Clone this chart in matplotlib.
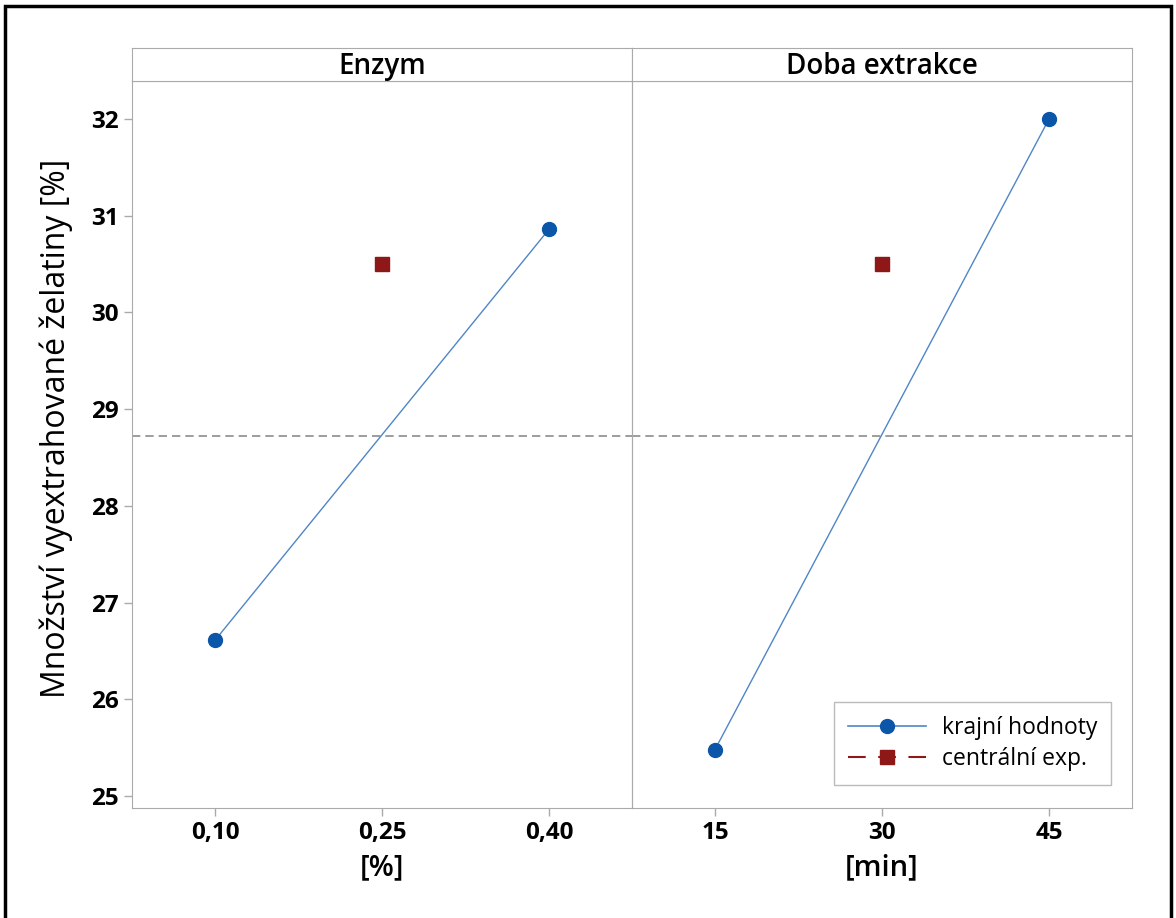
import matplotlib.pyplot as plt
from matplotlib.lines import Line2D
from matplotlib.patches import Rectangle

# hlavní efekty - krajní body a centrální experiment
faktory = ['Enzym', 'Doba extrakce']
jednotky = ['[%]', '[min]']
urovne = [[0.10, 0.25, 0.40], [15, 30, 45]]
popisky = [['0,10', '0,25', '0,40'], ['15', '30', '45']]
krajni = [[26.61, 30.86], [25.48, 32.00]]
centralni = [30.50, 30.50]
prumer = 28.72

plt.rcParams['font.family'] = ['Open Sans', 'DejaVu Sans']

W, H = 1176, 918
fig = plt.figure(figsize=(W / 100, H / 100), dpi=100)

# ramecek kolem celeho obrazku (spodni okraj je oriznuty)
fig.patches.append(Rectangle((5 / W, -0.02), 1166 / W, 912 / H + 0.02,
                             transform=fig.transFigure, fill=False,
                             edgecolor='black', linewidth=2.5))

seda = '#aaaaaa'
x0 = [132, 632]
sirka = 500
spodek, vrsek, pruh = 808, 81, 48

for i in range(2):
    ax = fig.add_axes([x0[i] / W, (H - spodek) / H, sirka / W, (spodek - vrsek) / H])
    ax.patch.set_alpha(0)
    lv = urovne[i]
    krok = lv[1] - lv[0]
    ax.set_xlim(lv[0] - 0.497 * krok, lv[2] + 0.497 * krok)
    ax.set_ylim(24.876, 32.393)

    ax.axhline(prumer, color='#8c8c8c', linestyle=(0, (5, 3)), linewidth=1.2, zorder=1)
    ax.plot([lv[0], lv[2]], krajni[i], color='#4f86c6', linewidth=1.0, zorder=2)
    ax.plot([lv[0], lv[2]], krajni[i], linestyle='none', marker='o', markersize=10,
            color='#0b56a8', zorder=3)
    ax.plot([lv[1]], [centralni[i]], linestyle='none', marker='s', markersize=10,
            color='#8e1717', zorder=3)

    ax.set_xticks(lv)
    ax.set_xticklabels(popisky[i])
    ax.set_xlabel(jednotky[i], fontsize=21, fontweight='semibold', labelpad=6)
    for s in ax.spines.values():
        s.set_color(seda)
    ax.tick_params(axis='both', colors=seda, labelcolor='black', length=6, width=1,
                   labelsize=17.5)
    for t in ax.get_xticklabels() + ax.get_yticklabels():
        t.set_fontweight('bold')

    if i == 0:
        ax.set_yticks(range(25, 33))
        ax.set_ylabel('Množství vyextrahované želatiny [%]', fontsize=23,
                      fontweight='medium')
        # popisek vycentrovany i se zahlavim
        ax.yaxis.set_label_coords(-0.118, (spodek - (spodek + pruh) / 2) / (spodek - vrsek))
    else:
        ax.set_yticks([])
        leg = ax.legend(handles=[
            Line2D([], [], color='#4f86c6', linewidth=1.2, marker='o', markersize=10,
                   markerfacecolor='#0b56a8', markeredgecolor='#0b56a8'),
            Line2D([], [], color='#8e1717', linewidth=1.5, linestyle=(0, (8.5, 6)),
                   marker='s', markersize=10),
        ], labels=['krajní hodnoty', 'centrální exp.'], loc='lower right',
            bbox_to_anchor=(0.958, 0.032), fontsize=16.5, frameon=True, fancybox=False,
            edgecolor=seda, handlelength=3.4, handletextpad=0.7, borderpad=0.6,
            labelspacing=0.3, borderaxespad=0)
        leg.get_frame().set_linewidth(1.0)

    # zahlavi panelu
    hx = fig.add_axes([x0[i] / W, (H - vrsek) / H, sirka / W, (vrsek - pruh) / H])
    hx.set_xticks([])
    hx.set_yticks([])
    for s in hx.spines.values():
        s.set_color(seda)
    hx.text(0.5, 0.45, faktory[i], ha='center', va='center', fontsize=20,
            fontweight='semibold', transform=hx.transAxes)

fig.savefig('out.png', dpi=100)
